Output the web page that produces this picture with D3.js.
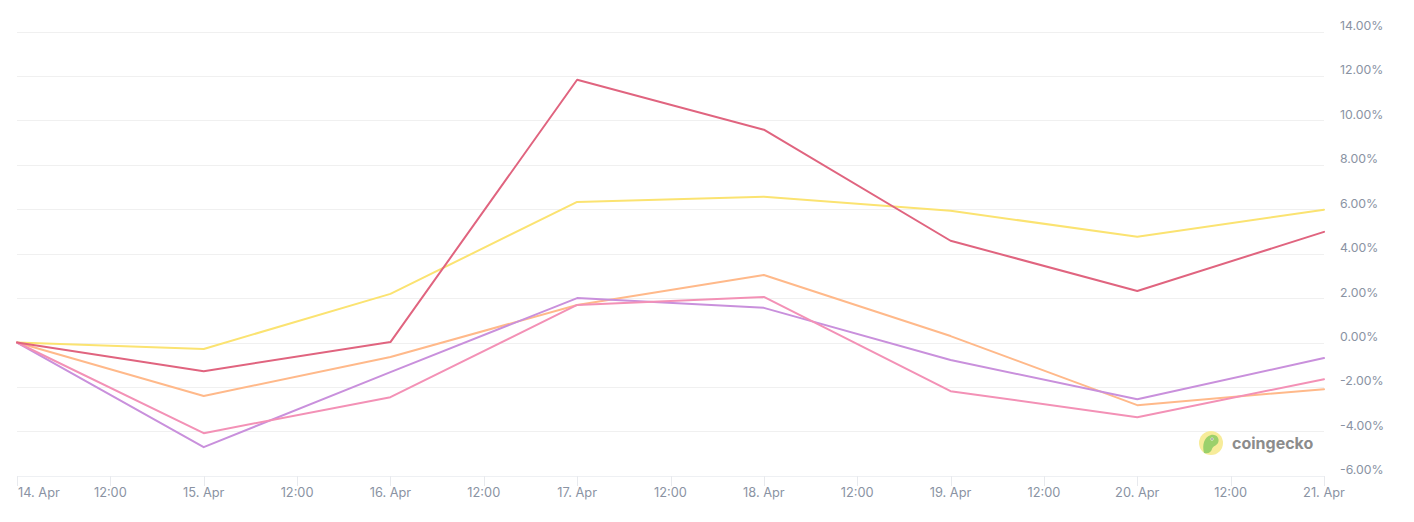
<!DOCTYPE html>
<html><head><meta charset="utf-8">
<script src="https://cdn.jsdelivr.net/npm/d3@7"></script>
<style>html,body{margin:0;padding:0;background:#fff;}svg{display:block;font-family:Inter,"Open Sans",sans-serif;}</style>
</head><body>
<svg id="c" width="1414" height="522"></svg>
<script>
const dates = ["2024-04-14","2024-04-15","2024-04-16","2024-04-17","2024-04-18","2024-04-19","2024-04-20","2024-04-21"];
const seriesRed    = [0, -1.29, 0.02, 11.83, 9.58, 4.58, 2.32, 4.98];
const seriesYellow = [0, -0.29, 2.19, 6.33, 6.56, 5.93, 4.76, 5.98];
const seriesOrange = [0, -2.41, -0.65, 1.69, 3.04, 0.29, -2.82, -2.10];
const seriesPink   = [0, -4.08, -2.46, 1.69, 2.05, -2.19, -3.36, -1.65];
const seriesPurple = [0, -4.71, -1.33, 2.00, 1.56, -0.79, -2.55, -0.70];
const yTicks = [-6, -4, -2, 0, 2, 4, 6, 8, 10, 12, 14];
const series = [
  {name:"orange", values: seriesOrange, color:"#ffb98a"},
  {name:"yellow", values: seriesYellow, color:"#fbe371"},
  {name:"purple", values: seriesPurple, color:"#c990dc"},
  {name:"pink",   values: seriesPink,   color:"#f391b6"},
  {name:"red",    values: seriesRed,    color:"#e0647f"}
];

const parse = d3.utcParse("%Y-%m-%d");
const D = dates.map(parse);
const svg = d3.select("#c");
const x = d3.scaleUtc().domain([D[0], D[D.length-1]]).range([17, 1324]);
const y = d3.scaleLinear().domain([-6, 14]).range([475.8, 31.5]);

// grid
svg.append("g").selectAll("line").data(yTicks).join("line")
  .attr("x1", 17).attr("x2", 1324)
  .attr("y1", d => Math.round(y(d)) + 0.5).attr("y2", d => Math.round(y(d)) + 0.5)
  .attr("stroke", "#f0f0f0").attr("stroke-width", 1);

// y labels
svg.append("g").selectAll("text").data(yTicks).join("text")
  .attr("x", 1340).attr("y", d => y(d) - 1.5)
  .attr("font-size", 12.3).attr("fill", "#8a93a3")
  .text(d => d.toFixed(2) + "%");

// x axis ticks
const xTicks = d3.utcHour.every(12).range(D[0], d3.utcHour.offset(D[D.length-1], 1));
const xg = svg.append("g");
xg.append("line").attr("x1", 17).attr("x2", 1324).attr("y1", 476.5).attr("y2", 476.5).attr("stroke", "#eef0f3");
xg.selectAll("line.t").data(xTicks).join("line").attr("class","t")
  .attr("x1", d => Math.round(x(d)) + 0.5).attr("x2", d => Math.round(x(d)) + 0.5)
  .attr("y1", 476).attr("y2", 486).attr("stroke", "#e8eaee");
const fmt = d => d.getUTCHours() === 12 ? "12:00" : d3.utcFormat("%-d. %b")(d);
xg.selectAll("text").data(xTicks).join("text")
  .attr("x", (d,i) => i === 0 ? 18 : x(d))
  .attr("y", 497)
  .attr("text-anchor", (d,i) => i === 0 ? "start" : "middle")
  .attr("font-size", 12.8).attr("fill", "#8a93a3")
  .text(fmt);

// lines
const line = d3.line().x((d,i) => x(D[i])).y(d => y(d));
svg.append("g").selectAll("path").data(series).join("path")
  .attr("d", s => line(s.values))
  .attr("fill", "none").attr("stroke", s => s.color)
  .attr("stroke-width", 2).attr("stroke-linejoin", "round").attr("stroke-linecap", "round");

// watermark
const wm = svg.append("g").attr("transform", "translate(1211,443)");
wm.append("circle").attr("r", 12).attr("fill", "#f7ec9a");
wm.append("path").attr("d", "M-7,10 C-9,2 -7,-6 0,-8 C6,-9 9,-4 7,0 C5,3 2,3 1,6 C0,9 -2,11 -7,10 Z").attr("fill", "#9bd06b");
wm.append("circle").attr("cx", 1).attr("cy", -4).attr("r", 1.5).attr("fill", "#fff");
wm.append("circle").attr("cx", 1).attr("cy", -4).attr("r", 0.8).attr("fill", "#555");
svg.append("text").attr("x", 1232).attr("y", 448.5).attr("font-size", 16).attr("font-weight", 700)
  .attr("fill", "#8c8c8c").attr("font-family", "Inter, sans-serif").text("coingecko");
</script>
</body></html>
